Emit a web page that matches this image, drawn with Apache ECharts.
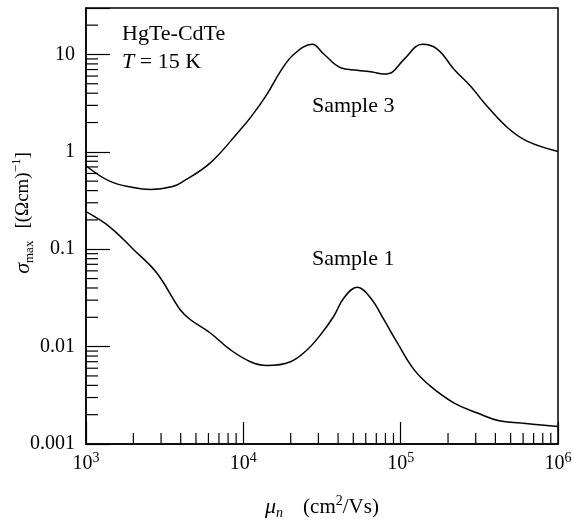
<!DOCTYPE html>
<html>
<head>
<meta charset="utf-8">
<script src="https://cdn.jsdelivr.net/npm/echarts@6/dist/echarts.min.js"></script>
<style>
html,body{margin:0;padding:0;background:#fff;}
#chart{width:574px;height:523px;}
</style>
</head>
<body>
<div id="chart"></div>
<script>
// ---- data ----
const sample3Mu = [1000, 1413, 1995, 2570, 3548, 4169, 6166, 9572, 11220, 14125, 17220, 20890, 27400, 32430, 41500, 53000, 66000, 78300, 88500, 105000, 137400, 171400, 218800, 279300, 338800, 478600, 641200, 1000000];
const sample3Sigma = [0.72, 0.50, 0.43, 0.41, 0.44, 0.50, 0.77, 1.69, 2.3, 3.9, 6.7, 10.0, 12.7, 10.1, 7.3, 6.9, 6.6, 6.3, 6.6, 8.9, 12.7, 11.3, 7.0, 4.7, 3.2, 1.77, 1.28, 1.01];

const sample1Mu = [1000, 1413, 1995, 2818, 3972, 4592, 6166, 8260, 11090, 14160, 19910, 25470, 30900, 37580, 43550, 52970, 64420, 78300, 95300, 121600, 155200, 218800, 307600, 422700, 580800, 1000000];
const sample1Sigma = [0.243, 0.17, 0.10, 0.057, 0.0239, 0.019, 0.0138, 0.0093, 0.0070, 0.0064, 0.0070, 0.0093, 0.0132, 0.0205, 0.0316, 0.0406, 0.0316, 0.0189, 0.0109, 0.0058, 0.0039, 0.00263, 0.00208, 0.00173, 0.00164, 0.00151];

const xMin = 1e3, xMax = 1e6;
const yMin = 0.001, yMax = 30;
const xTickLabels = {1000: '3', 10000: '4', 100000: '5', 1000000: '6'};
const yTickLabels = ['10', '1', '0.1', '0.01', '0.001'];
const xMinorTicks = [2e3,3e3,4e3,5e3,6e3,7e3,8e3,9e3, 2e4,3e4,4e4,5e4,6e4,7e4,8e4,9e4, 2e5,3e5,4e5,5e5,6e5,7e5,8e5,9e5];
const yMinorTicks = [0.002,0.003,0.004,0.005,0.006,0.007,0.008,0.009, 0.02,0.03,0.04,0.05,0.06,0.07,0.08,0.09, 0.2,0.3,0.4,0.5,0.6,0.7,0.8,0.9, 2,3,4,5,6,7,8,9, 20];

const FONT = '"Liberation Serif", "DejaVu Serif", serif';

const chart = echarts.init(document.getElementById('chart'), null, {renderer: 'canvas'});

function zip(a, b) { return a.map((v, i) => [v, b[i]]); }

const option = {
  backgroundColor: '#fff',
  animation: false,
  grid: {left: 86, right: 16, top: 8, bottom: 79, show: true, borderColor: '#000', borderWidth: 1.5,
         backgroundColor: 'transparent', outerBoundsMode: 'none', containLabel: false},
  xAxis: {
    type: 'log', logBase: 10, min: xMin, max: xMax,
    axisLine: {show: true, lineStyle: {color: '#000', width: 1.5}},
    axisTick: {show: true, inside: true, length: 22, lineStyle: {color: '#000', width: 1.2}},
    splitLine: {show: false},
    axisLabel: {
      margin: 7, color: '#000', fontFamily: FONT, fontSize: 20,
      formatter: function (v) {
        const e = xTickLabels[Math.round(v)];
        return e ? '{b|10}{s|' + e + '}' : '';
      },
      rich: {
        b: {fontFamily: FONT, fontSize: 20, lineHeight: 26, color: '#000'},
        s: {fontFamily: FONT, fontSize: 14, lineHeight: 14, verticalAlign: 'top', color: '#000'}
      }
    },
    name: '{i|μ}{sub|n}{sp| }{b|(cm}{sup|2}{b|/Vs)}',
    nameLocation: 'middle', nameGap: 50, nameMoveOverlap: false,
    nameTextStyle: {
      color: '#000', fontFamily: FONT, fontSize: 20,
      rich: {
        i: {fontFamily: FONT, fontSize: 22, fontStyle: 'italic', lineHeight: 26, color: '#000'},
        sub: {fontFamily: FONT, fontSize: 14, fontStyle: 'italic', lineHeight: 12, verticalAlign: 'bottom', color: '#000'},
        sp: {fontSize: 20, width: 20, lineHeight: 26},
        b: {fontFamily: FONT, fontSize: 21, lineHeight: 26, color: '#000'},
        sup: {fontFamily: FONT, fontSize: 14, lineHeight: 14, verticalAlign: 'top', color: '#000'}
      }
    }
  },
  yAxis: {
    type: 'log', logBase: 10, min: yMin, max: yMax,
    axisLine: {show: true, lineStyle: {color: '#000', width: 1.5}},
    axisTick: {show: true, inside: true, length: 24, lineStyle: {color: '#000', width: 1.2}},
    splitLine: {show: false},
    axisLabel: {
      margin: 11, color: '#000', fontFamily: FONT, fontSize: 20,
      formatter: function (v) {
        const l = Math.log10(v);
        if (Math.abs(l - Math.round(l)) > 1e-6) return '';
        const s = yTickLabels.find(t => Math.abs(Math.log10(parseFloat(t)) - l) < 1e-6);
        return s || '';
      }
    },
    name: '{i|σ}{sub|max}{sp| }{b|[(Ωcm)}{sup|−1}{b|]}',
    nameLocation: 'middle', nameGap: 50, nameRotate: 90, nameMoveOverlap: false,
    nameTextStyle: {
      color: '#000', fontFamily: FONT, fontSize: 20,
      padding: [0, 0, 0, 26],
      rich: {
        i: {fontFamily: FONT, fontSize: 22, fontStyle: 'italic', lineHeight: 26, color: '#000'},
        sub: {fontFamily: FONT, fontSize: 13, lineHeight: 12, verticalAlign: 'bottom', color: '#000'},
        sp: {fontSize: 20, width: 12, lineHeight: 26},
        b: {fontFamily: FONT, fontSize: 19, lineHeight: 26, color: '#000'},
        sup: {fontFamily: FONT, fontSize: 13, lineHeight: 14, verticalAlign: 'top', color: '#000'}
      }
    }
  },
  graphic: [
    {type: 'text', left: 122, top: 23, style: {text: 'HgTe-CdTe', font: '22px ' + FONT, fill: '#000'}},
    {type: 'text', left: 122, top: 51, style: {
      text: '{i|T} = 15 K', font: '22px ' + FONT, fill: '#000',
      rich: {i: {fontFamily: FONT, fontSize: 22, fontStyle: 'italic'}}
    }},
    {type: 'text', left: 312, top: 95, style: {text: 'Sample 3', font: '22px ' + FONT, fill: '#000'}},
    {type: 'text', left: 312, top: 248, style: {text: 'Sample 1', font: '22px ' + FONT, fill: '#000'}}
  ],
  series: [
    {
      type: 'line', name: 'Sample 3', data: zip(sample3Mu, sample3Sigma),
      showSymbol: false, smooth: 0.4,
      lineStyle: {color: '#000', width: 1.5}, silent: true
    },
    {
      type: 'line', name: 'Sample 1', data: zip(sample1Mu, sample1Sigma),
      showSymbol: false, smooth: 0.4,
      lineStyle: {color: '#000', width: 1.5}, silent: true
    },
    {
      type: 'custom', name: 'xMinor', silent: true, clip: false,
      data: xMinorTicks.map(v => [v, yMin]),
      renderItem: function (params, api) {
        const p = api.coord([api.value(0), api.value(1)]);
        return {type: 'line', shape: {x1: p[0], y1: p[1], x2: p[0], y2: p[1] - 11}, style: {stroke: '#000', lineWidth: 1.2}};
      }
    },
    {
      type: 'custom', name: 'yMinor', silent: true, clip: false,
      data: yMinorTicks.map(v => [xMin, v]),
      renderItem: function (params, api) {
        const p = api.coord([api.value(0), api.value(1)]);
        return {type: 'line', shape: {x1: p[0], y1: p[1], x2: p[0] + 12, y2: p[1]}, style: {stroke: '#000', lineWidth: 1.2}};
      }
    }
  ]
};
chart.setOption(option);
</script>
</body>
</html>
